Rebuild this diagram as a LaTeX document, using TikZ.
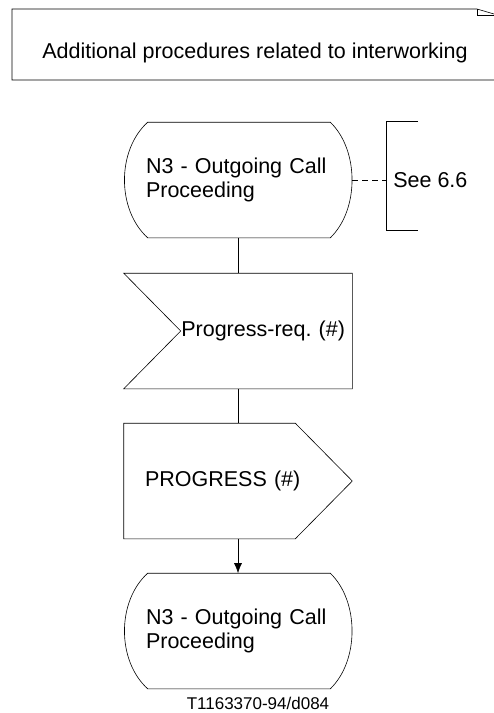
\documentclass[tikz,border=0pt]{standalone}
\usepackage{fontspec}
\setmainfont{Liberation Sans}
\usetikzlibrary{positioning, arrows.meta}
\frenchspacing

\tikzset{
    txt/.style={font=\fontsize{21.5}{24}\selectfont},
    sdl/.style={txt, minimum width=228pt, minimum height=115pt, inner ysep=0pt},
    lft/.style={sdl, text width=184pt, inner xsep=22pt, align=left},
    rgt/.style={sdl, text width=214pt, inner xsep=7pt, align=right}
}

\begin{document}
\begin{tikzpicture}[x=1pt, y=-1pt, >={Latex[length=10pt, width=8pt]}, semithick]
        \useasboundingbox (0,0) rectangle (494,713);
        % text annotation at the top
        \draw (494,80) -- (12,80) -- (12,9) -- (477,9) -- (494,14);
        \draw (477,9) -- (477,15) -- (494,15);
        \node (note) [txt] at (255,53) {Additional procedures related to interworking};
        % states and signals
        \node (s1) [lft] at (238,180) {N3 - Outgoing Call\\Proceeding};
        \node (inp) [rgt] at (238,331) {Progress-req. (\#)};
        \node (out) [sdl, text width=186pt, inner xsep=21pt, align=left] at (238,481) {PROGRESS (\#)};
        \node (s2) [lft] at (238,631) {N3 - Outgoing Call\\Proceeding};
        \foreach \s in {s1, s2}
            \draw ([xshift=24pt]\s.north west) -- ([xshift=-22pt]\s.north east)
                .. controls +(29,28) and +(29,-28) .. ([xshift=-22pt]\s.south east)
                -- ([xshift=24pt]\s.south west)
                .. controls +(-31,-28) and +(-31,28) .. cycle;
        \draw (inp.north west) -- (inp.north east) -- (inp.south east) -- (inp.south west) -- ([xshift=57pt]inp.west) -- cycle;
        \draw (out.north west) -- ([xshift=-57pt]out.north east) -- (out.east) -- ([xshift=-57pt]out.south east) -- (out.south west) -- cycle;
        \draw (s1) -- (inp);
        \draw (inp) -- (out);
        \draw [->] (out) -- (s2);
        % comment bracket
        \coordinate (br) at (386,180);
        \node (see) [txt, right=7pt of br, inner xsep=0pt] {See 6.6};
        \draw [dash pattern=on 6pt off 4pt] (s1.east) -- (br);
        \draw (418,121) -- (386,121) -- (386,230) -- (418,230);
        \node (code) [font=\fontsize{17}{20}\selectfont] at (258,703) {T1163370-94/d084};
    \end{tikzpicture}
\end{document}
